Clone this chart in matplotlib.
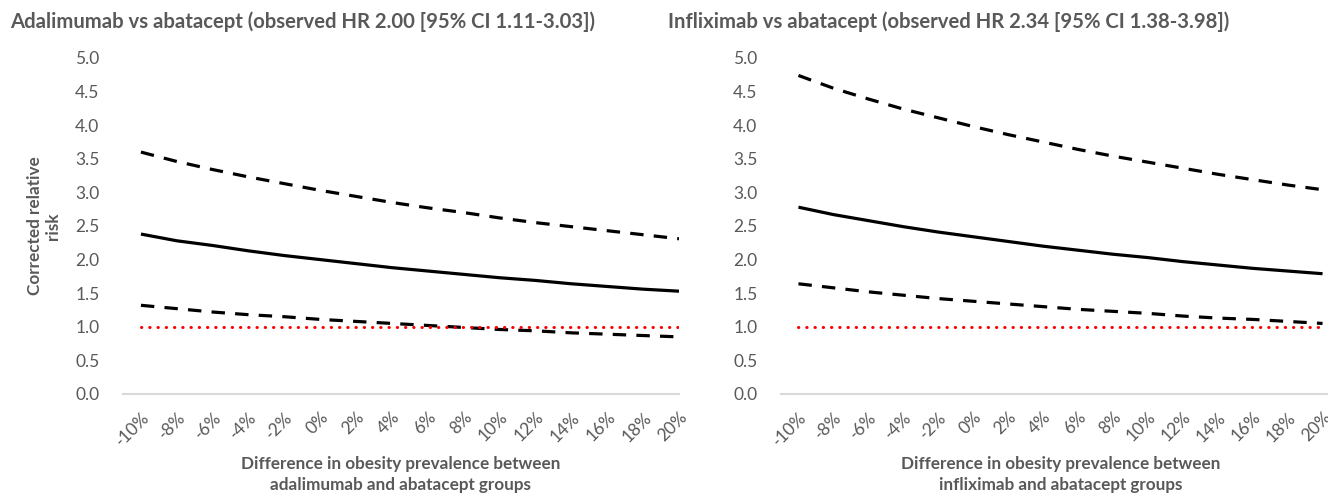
import matplotlib.pyplot as plt

plt.rcParams['font.family'] = ['Lato', 'DejaVu Sans']

# x categories: difference in obesity prevalence
diff_labels = ['-10%', '-8%', '-6%', '-4%', '-2%', '0%', '2%', '4%',
               '6%', '8%', '10%', '12%', '14%', '16%', '18%', '20%']

# adalimumab vs abatacept (observed HR 2.00 [1.11-3.03])
ada_hr = [2.38, 2.28, 2.21, 2.13, 2.06, 2.00, 1.94, 1.88,
          1.83, 1.78, 1.73, 1.69, 1.64, 1.60, 1.56, 1.53]
ada_upper = [3.60, 3.46, 3.34, 3.23, 3.13, 3.03, 2.94, 2.85,
             2.77, 2.70, 2.62, 2.55, 2.49, 2.43, 2.37, 2.31]
ada_lower = [1.32, 1.27, 1.22, 1.18, 1.15, 1.11, 1.08, 1.05,
             1.02, 0.99, 0.96, 0.94, 0.91, 0.89, 0.87, 0.85]

# infliximab vs abatacept (observed HR 2.34 [1.38-3.98])
inf_hr = [2.78, 2.67, 2.58, 2.49, 2.41, 2.34, 2.27, 2.20,
          2.14, 2.08, 2.03, 1.97, 1.92, 1.87, 1.83, 1.79]
inf_upper = [4.74, 4.55, 4.39, 4.24, 4.11, 3.98, 3.86, 3.75,
             3.64, 3.54, 3.45, 3.36, 3.27, 3.19, 3.11, 3.04]
inf_lower = [1.64, 1.58, 1.52, 1.47, 1.42, 1.38, 1.34, 1.30,
             1.26, 1.23, 1.20, 1.16, 1.13, 1.11, 1.08, 1.05]

null_line = [1.0, 1.0, 1.0, 1.0, 1.0, 1.0, 1.0, 1.0,
             1.0, 1.0, 1.0, 1.0, 1.0, 1.0, 1.0, 1.0]

W, H = 1328, 496
gray = '#595959'

fig = plt.figure(figsize=(W / 100, H / 100), dpi=100)


def make_panel(left_px, right_px, hr, upper, lower, title, xlabel, ylabel, xmax):
    ax = fig.add_axes([left_px / W, (H - 394) / H, (right_px - left_px) / W, 336 / H])
    x = list(range(len(diff_labels)))
    ax.plot(x, upper, color='black', lw=2.3, dashes=(4.2, 3.2))
    ax.plot(x, hr, color='black', lw=2.3, solid_capstyle='butt')
    ax.plot(x, lower, color='black', lw=2.3, dashes=(4.2, 3.2))
    ax.plot(x, null_line, color='#ff0000', lw=2.2, linestyle=(0, (0.1, 2.6)),
            dash_capstyle='round')
    ax.set_xlim(-0.5, xmax)
    ax.set_ylim(0, 5)
    ax.set_yticks([0, 0.5, 1, 1.5, 2, 2.5, 3, 3.5, 4, 4.5, 5])
    ax.set_yticklabels(['%.1f' % v for v in ax.get_yticks()])
    ax.set_xticks(x)
    ax.set_xticklabels(diff_labels, rotation=45, ha='right', va='top',
                       rotation_mode='anchor')
    for s in ['top', 'right', 'left']:
        ax.spines[s].set_visible(False)
    ax.spines['bottom'].set_color('#d9d9d9')
    ax.spines['bottom'].set_linewidth(1.5)
    ax.tick_params(length=0, colors=gray, labelsize=12.5)
    ax.tick_params(axis='y', pad=17)
    ax.tick_params(axis='x', pad=11)
    ax.set_xlabel(xlabel, color=gray, fontsize=12.3, fontweight='bold',
                  labelpad=5, linespacing=1.35)
    if ylabel:
        ax.set_ylabel(ylabel, color=gray, fontsize=12.3, fontweight='bold',
                      labelpad=10, linespacing=1.15)
    fig.text((left_px - 113) / W, 1 - 22 / H, title, color=gray, fontsize=14.6,
             fontweight='bold', va='center', ha='left')
    return ax


make_panel(123, 679, ada_hr, ada_upper, ada_lower,
           'Adalimumab vs abatacept (observed HR 2.00 [95% CI 1.11-3.03])',
           'Difference in obesity prevalence between\nadalimumab and abatacept groups',
           'Corrected relative\nrisk', 15.0)
make_panel(781, 1340, inf_hr, inf_upper, inf_lower,
           'Infliximab vs abatacept (observed HR 2.34 [95% CI 1.38-3.98])',
           'Difference in obesity prevalence between\ninfliximab and abatacept groups',
           None, 15.5)

fig.savefig('out.png', dpi=100)
